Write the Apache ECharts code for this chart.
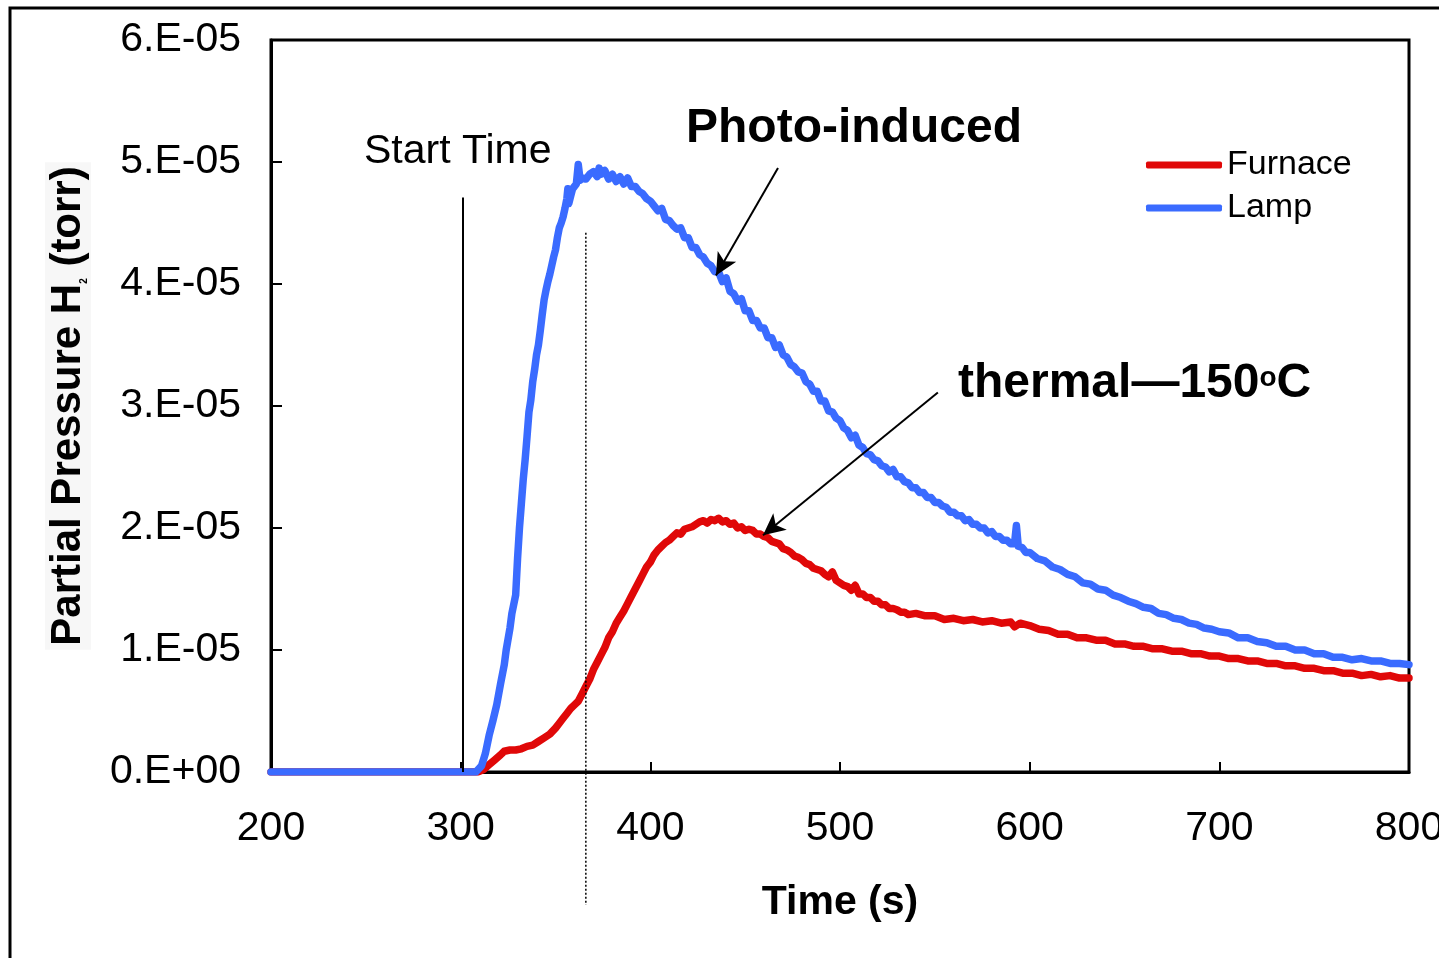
<!DOCTYPE html>
<html>
<head>
<meta charset="utf-8">
<script src="https://cdn.jsdelivr.net/npm/echarts@6/dist/echarts.min.js"></script>
<style>
  html, body { margin: 0; padding: 0; background: #fff; overflow: hidden; }
  #chart { width: 1439px; height: 958px; }
</style>
</head>
<body>
<div id="chart"></div>
<script>
// Time axis ticks (s)
const xTicks = [200, 300, 400, 500, 600, 700, 800];
// Pressure tick labels, in units of 1e-5 torr (index = value)
const yTickLabels = ['0.E+00', '1.E-05', '2.E-05', '3.E-05', '4.E-05', '5.E-05', '6.E-05'];

const seriesNames = ['Furnace', 'Lamp'];

// H2 partial pressure, [time s, pressure in 1e-5 torr]
const furnace = [
  [200,0],[250,0],[300,0],[309,0],[312,0.02],[315,0.06],[318,0.1],[321,0.14],[323,0.17],[326,0.18],[329,0.18],
  [332,0.19],[335,0.21],[338,0.22],[341,0.25],[344,0.28],[347,0.31],[350,0.36],[352,0.4],[354,0.44],[356,0.48],
  [358,0.52],[360,0.55],[362,0.58],[364,0.64],[366,0.7],[368,0.76],[370,0.84],[372,0.9],[374,0.96],[376,1.02],
  [378,1.1],[380,1.15],[382,1.22],[384,1.27],[386,1.32],[388,1.38],[390,1.44],[392,1.5],[394,1.56],[396,1.62],
  [398,1.68],[400,1.72],[402,1.78],[404,1.82],[406,1.85],[408,1.88],[410,1.9],[412,1.93],[414,1.96],[416,1.95],
  [418,1.99],[420,2.0],[422,2.01],[424,2.03],[426,2.05],[428,2.06],[430,2.04],[432,2.07],[434,2.06],[436,2.08],
  [438,2.05],[440,2.06],[442,2.03],[444,2.04],[446,2.0],[448,2.01],[450,1.98],[452,1.99],[454,1.98],[456,1.95],
  [458,1.95],[460,1.93],[462,1.92],[464,1.89],[466,1.88],[468,1.87],[470,1.83],[472,1.82],[474,1.8],[476,1.77],
  [478,1.76],[480,1.74],[482,1.71],[484,1.7],[486,1.67],[488,1.66],[490,1.65],[492,1.62],[494,1.6],[496,1.64],
  [498,1.57],[500,1.55],[502,1.53],[504,1.52],[506,1.49],[508,1.53],[510,1.46],[512,1.46],[514,1.43],[516,1.43],
  [518,1.4],[520,1.4],[522,1.37],[524,1.37],[526,1.34],[528,1.34],[530,1.33],[532,1.31],[534,1.31],[536,1.29],
  [540,1.3],[545,1.28],[550,1.28],[555,1.25],[560,1.26],[565,1.24],[570,1.25],[575,1.23],[580,1.24],[585,1.22],
  [590,1.23],[592,1.19],[595,1.22],[600,1.2],[605,1.17],[610,1.16],[615,1.13],[620,1.13],[625,1.1],[630,1.1],
  [635,1.08],[640,1.08],[645,1.05],[650,1.05],[655,1.03],[660,1.03],[665,1.01],[670,1.01],[675,0.99],[680,0.99],
  [685,0.97],[690,0.97],[695,0.95],[700,0.95],[705,0.93],[710,0.93],[715,0.91],[720,0.91],[725,0.89],[730,0.89],
  [735,0.87],[740,0.87],[745,0.85],[750,0.85],[755,0.83],[760,0.83],[765,0.81],[770,0.81],[775,0.79],[780,0.8],
  [785,0.78],[790,0.79],[795,0.77],[800,0.77]
];

const lamp = [
  [200,0],[250,0],[300,0],[308,0],[311,0.05],[313,0.15],[315,0.3],[317,0.42],[319,0.55],[321,0.72],[323,0.88],
  [324,1.0],[326,1.18],[327,1.3],[329,1.45],[330,1.75],[331,2.0],[332,2.2],[333,2.4],[334,2.56],[335,2.75],
  [336,2.95],[337,3.05],[338,3.2],[339,3.3],[340,3.42],[341,3.5],[342,3.62],[343,3.75],[344,3.87],[345,3.95],
  [346,4.02],[347,4.08],[348,4.15],[349,4.22],[350,4.28],[351,4.38],[352,4.46],[353,4.5],[354,4.55],[355,4.62],
  [356,4.7],[356.5,4.78],[357,4.66],[358,4.72],[359,4.78],[360,4.8],[361,4.82],[362,4.98],[363,4.85],[364,4.87],
  [366,4.86],[368,4.9],[370,4.92],[372,4.88],[373,4.95],[374,4.9],[376,4.93],[378,4.86],[380,4.9],[382,4.84],
  [384,4.88],[386,4.82],[388,4.87],[390,4.8],[392,4.8],[394,4.76],[396,4.74],[398,4.7],[400,4.68],[402,4.64],
  [404,4.6],[406,4.62],[408,4.53],[410,4.52],[412,4.48],[414,4.45],[416,4.46],[418,4.38],[420,4.38],[422,4.3],
  [424,4.3],[426,4.24],[428,4.22],[430,4.17],[432,4.15],[434,4.1],[436,4.1],[438,4.02],[440,4.05],[442,3.94],
  [444,3.92],[446,3.86],[448,3.88],[450,3.78],[452,3.78],[454,3.7],[456,3.7],[458,3.64],[460,3.64],[462,3.56],
  [464,3.56],[466,3.48],[468,3.5],[470,3.42],[472,3.4],[474,3.34],[476,3.32],[478,3.28],[480,3.27],[482,3.2],
  [484,3.18],[486,3.12],[488,3.12],[490,3.04],[492,3.04],[494,2.96],[496,2.95],[498,2.9],[500,2.88],[502,2.82],
  [504,2.8],[506,2.74],[508,2.76],[510,2.68],[512,2.66],[514,2.61],[516,2.6],[518,2.56],[520,2.55],[522,2.51],
  [524,2.5],[526,2.46],[528,2.48],[530,2.42],[532,2.42],[534,2.38],[536,2.37],[538,2.33],[540,2.33],[542,2.29],
  [544,2.29],[546,2.25],[548,2.25],[550,2.21],[552,2.21],[554,2.18],[556,2.17],[558,2.13],[560,2.13],[562,2.1],
  [564,2.1],[566,2.06],[568,2.07],[570,2.03],[572,2.03],[574,2.0],[576,2.0],[578,1.96],[580,1.97],[582,1.93],
  [584,1.93],[586,1.9],[588,1.9],[590,1.87],[592,1.87],[593,2.02],[594,1.85],[596,1.84],[598,1.8],[600,1.8],
  [604,1.75],[608,1.73],[612,1.68],[616,1.66],[620,1.62],[624,1.6],[628,1.55],[632,1.54],[636,1.5],[640,1.49],
  [644,1.45],[648,1.43],[652,1.4],[656,1.38],[660,1.35],[664,1.34],[668,1.3],[672,1.29],[676,1.26],[680,1.25],
  [684,1.22],[688,1.21],[692,1.18],[696,1.17],[700,1.15],[705,1.14],[710,1.1],[715,1.1],[720,1.07],[725,1.06],
  [730,1.03],[735,1.03],[740,1.0],[745,1.0],[750,0.97],[755,0.97],[760,0.94],[765,0.94],[770,0.92],[775,0.93],
  [780,0.91],[785,0.91],[790,0.89],[795,0.89],[800,0.88]
];

const FONT = '"Liberation Sans", Arial, sans-serif';
const RED = '#E00808';
const BLUE = '#3A6BFF';

const chart = echarts.init(document.getElementById('chart'), null, { renderer: 'canvas' });

// thin annotation arrows/lines placed in data coordinates
const plainLine = { color: '#000', width: 2, type: 'solid' };

const option = {
  animation: false,
  backgroundColor: '#fff',
  grid: {
    left: 271, right: 30, top: 40, bottom: 186,
    outerBoundsMode: 'none', containLabel: false,
    show: true, borderColor: '#000', borderWidth: 3, backgroundColor: 'transparent'
  },
  legend: {
    orient: 'vertical',
    left: 1146, top: 148, padding: 0,
    itemWidth: 76, itemHeight: 7, itemGap: 9,
    icon: 'roundRect',
    data: seriesNames,
    textStyle: { fontFamily: FONT, fontSize: 34, color: '#000', padding: [0, 0, 0, 0] }
  },
  xAxis: {
    type: 'value', min: xTicks[0], max: xTicks[xTicks.length - 1], interval: 100,
    name: 'Time (s)', nameLocation: 'middle', nameGap: 110,
    nameTextStyle: { fontFamily: FONT, fontSize: 41, fontWeight: 'bold', color: '#000' },
    axisLine: { show: true, lineStyle: { color: '#000', width: 3 } },
    axisTick: { show: true, inside: true, length: 10, lineStyle: { color: '#000', width: 2 } },
    axisLabel: { fontFamily: FONT, fontSize: 41, color: '#000', margin: 36 },
    splitLine: { show: false }
  },
  yAxis: {
    type: 'value', min: 0, max: 6, interval: 1,
    name: '{t|Partial Pressure H}{s|2}{t| (torr)}', nameLocation: 'middle', nameGap: 180, nameRotate: 90,
    nameTextStyle: {
      backgroundColor: '#f7f7f7', padding: [2, 4, 2, 4],
      rich: {
        t: { fontFamily: FONT, fontSize: 42, fontWeight: 'bold', color: '#000' },
        s: { fontFamily: FONT, fontSize: 10, fontWeight: 'bold', color: '#000', verticalAlign: 'bottom' }
      }
    },
    axisLine: { show: true, lineStyle: { color: '#000', width: 3 } },
    axisTick: { show: true, inside: true, length: 11, lineStyle: { color: '#000', width: 2 } },
    axisLabel: {
      fontFamily: FONT, fontSize: 41, color: '#000', margin: 30,
      formatter: v => yTickLabels[Math.round(v)]
    },
    splitLine: { show: false }
  },
  series: [
    {
      name: seriesNames[0], type: 'line', data: furnace, showSymbol: false, symbol: 'none',
      color: RED, lineStyle: { color: RED, width: 7.5, cap: 'round', join: 'round' }, z: 3,
      markLine: {
        silent: true, symbol: ['none', 'arrow'], symbolSize: [16, 22], label: { show: false },
        lineStyle: plainLine, animation: false,
        data: [
          [{ coord: [551.6, 3.11] }, { coord: [459.4, 1.94] }]
        ]
      }
    },
    {
      name: seriesNames[1], type: 'line', data: lamp, showSymbol: false, symbol: 'none',
      color: BLUE, lineStyle: { color: BLUE, width: 7.5, cap: 'round', join: 'round' }, z: 4,
      markLine: {
        silent: true, symbol: ['none', 'arrow'], symbolSize: [16, 22], label: { show: false },
        lineStyle: plainLine, animation: false,
        data: [
          [{ coord: [467.3, 4.95] }, { coord: [434.6, 4.07] }],
          [{ coord: [301, 0], symbol: 'none' }, { coord: [301, 4.71], symbol: 'none' }]
        ]
      }
    }
  ]
};

chart.setOption(option);

// Dotted marker at t = 366 s, running from the curve region down past the time axis
const dotTop = chart.convertToPixel({ gridIndex: 0 }, [366, 4.42]);
const dotAxis = chart.convertToPixel({ gridIndex: 0 }, [366, 0]);

chart.setOption({
  graphic: [
    // figure frame
    { type: 'rect', shape: { x: 10, y: 8, width: 1500, height: 1000 },
      style: { fill: 'none', stroke: '#000', lineWidth: 3 }, z: 0, silent: true },
    { type: 'line', shape: { x1: dotTop[0], y1: dotTop[1], x2: dotAxis[0], y2: dotAxis[1] + 133 },
      style: { stroke: '#000', lineWidth: 1.5, lineDash: [2, 2] }, z: 10, silent: true },
    { type: 'text', left: 364, top: 131,
      style: { text: 'Start Time', font: '41px ' + FONT, fill: '#000' }, silent: true },
    { type: 'text', left: 686, top: 105,
      style: { text: 'Photo-induced', font: 'bold 48px ' + FONT, fill: '#000' }, silent: true },
    { type: 'text', left: 958, top: 360,
      style: {
        text: '{b|thermal—150}{o|o}{b|C}',
        rich: {
          b: { font: 'bold 48px ' + FONT, fill: '#000' },
          o: { font: 'bold 28px ' + FONT, fill: '#000', verticalAlign: 'top', padding: [4, 0, 0, 0] }
        }
      }, silent: true }
  ]
});
</script>
</body>
</html>
